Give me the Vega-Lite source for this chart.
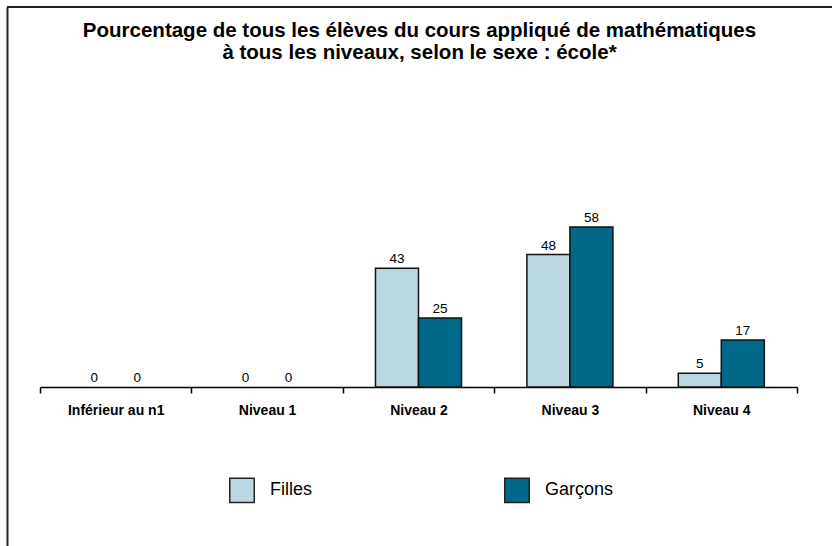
{
  "$schema": "https://vega.github.io/schema/vega-lite/v6.json",
  "width": 825,
  "height": 539,
  "autosize": "none",
  "padding": {"left": 7, "top": 7, "right": 0, "bottom": 0},
  "background": "white",
  "config": {"view": {"stroke": null}, "font": "Liberation Sans"},
  "title": {
    "text": ["Pourcentage de tous les élèves du cours appliqué de mathématiques", "à tous les niveaux, selon le sexe : école*"],
    "fontSize": 20.5,
    "font": "Liberation Sans",
    "fontWeight": "bold",
    "color": "#000000",
    "anchor": "middle",
    "baseline": "top",
    "offset": -57,
    "lineHeight": 22
  },
  "data": {
    "values": [
      {"niveau": "Inférieur au n1", "sexe": "Filles", "pct": 0},
      {"niveau": "Inférieur au n1", "sexe": "Garçons", "pct": 0},
      {"niveau": "Niveau 1", "sexe": "Filles", "pct": 0},
      {"niveau": "Niveau 1", "sexe": "Garçons", "pct": 0},
      {"niveau": "Niveau 2", "sexe": "Filles", "pct": 43},
      {"niveau": "Niveau 2", "sexe": "Garçons", "pct": 25},
      {"niveau": "Niveau 3", "sexe": "Filles", "pct": 48},
      {"niveau": "Niveau 3", "sexe": "Garçons", "pct": 58},
      {"niveau": "Niveau 4", "sexe": "Filles", "pct": 5},
      {"niveau": "Niveau 4", "sexe": "Garçons", "pct": 17}
    ]
  },
  "layer": [
    {
      "mark": {"type": "bar", "stroke": "#111111"},
      "encoding": {
        "x": {
          "field": "niveau", "type": "nominal",
          "sort": ["Inférieur au n1", "Niveau 1", "Niveau 2", "Niveau 3", "Niveau 4"],
          "scale": {"range": [33, 790], "paddingInner": 0, "paddingOuter": 0},
          "axis": {
            "orient": "bottom", "offset": -159, "title": null,
            "domainColor": "#000000", "domainWidth": 1.5,
            "tickBand": "extent", "tickSize": 6, "tickColor": "#000000", "tickWidth": 1.5,
            "labelAngle": 0, "labelFont": "Liberation Sans", "labelFontSize": 14, "labelFontWeight": "bold",
            "labelColor": "#000000", "labelPadding": 10
          }
        },
        "xOffset": {
          "field": "sexe", "type": "nominal", "sort": ["Filles", "Garçons"],
          "scale": {"paddingInner": 0, "paddingOuter": 0.76}
        },
        "y": {
          "field": "pct", "type": "quantitative",
          "scale": {"domain": [-57.6, 137.7], "nice": false, "zero": false},
          "axis": {"orient": "left", "domain": true, "domainColor": "#222222", "domainWidth": 2, "ticks": false, "labels": false, "grid": false, "title": null}
        },
        "y2": {"datum": 0},
        "strokeWidth": {"condition": {"test": "datum.pct === 0", "value": 0}, "value": 1.5},
        "color": {
          "field": "sexe", "type": "nominal",
          "scale": {"domain": ["Filles", "Garçons"], "range": ["#BBD7E2", "#00698A"]},
          "legend": {
            "orient": "none", "legendX": 222, "legendY": 470, "direction": "horizontal", "title": null,
            "symbolType": "square", "symbolSize": 600, "symbolStrokeColor": "#222222", "symbolStrokeWidth": 1.5,
            "labelFont": "Liberation Sans", "labelFontSize": 18, "labelOffset": 15, "labelColor": "#000000",
            "columnPadding": 188
          }
        }
      }
    },
    {
      "mark": {"type": "text", "dy": -5, "baseline": "alphabetic", "fontSize": 13.5, "color": "#000000", "font": "Liberation Sans"},
      "encoding": {
        "x": {"field": "niveau", "type": "nominal", "sort": ["Inférieur au n1", "Niveau 1", "Niveau 2", "Niveau 3", "Niveau 4"]},
        "xOffset": {"field": "sexe", "type": "nominal", "sort": ["Filles", "Garçons"]},
        "y": {"field": "pct", "type": "quantitative"},
        "text": {"field": "pct", "type": "quantitative"}
      }
    },
    {
      "data": {"values": [{"top": 137.7}]},
      "mark": {"type": "rule", "color": "#222222", "strokeWidth": 2},
      "encoding": {"y": {"field": "top", "type": "quantitative"}}
    }
  ]
}
